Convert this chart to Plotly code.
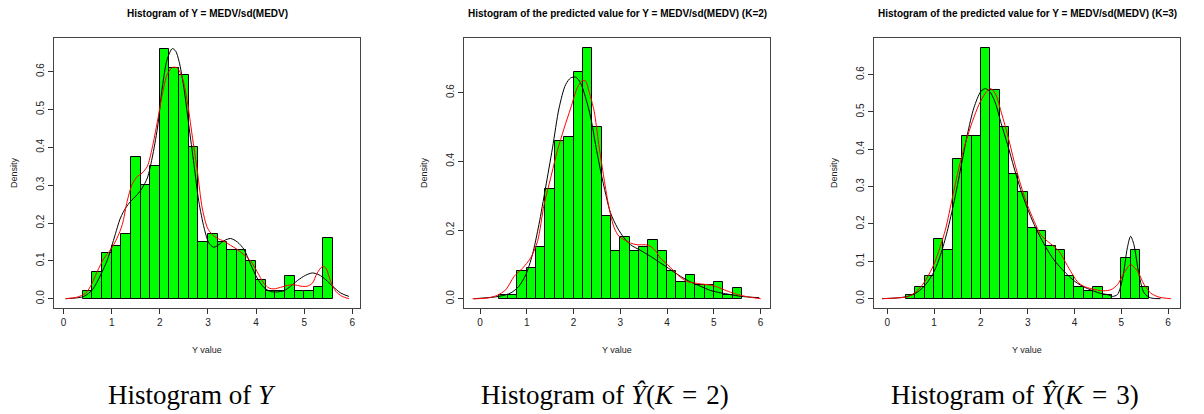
import plotly.graph_objects as go

# ---------------- data ----------------
bin_left = [0.4, 0.6, 0.8, 1.0, 1.2, 1.4, 1.6, 1.8, 2.0, 2.2, 2.4, 2.6, 2.8,
            3.0, 3.2, 3.4, 3.6, 3.8, 4.0, 4.2, 4.4, 4.6, 4.8, 5.0, 5.2, 5.4]
bin_width = 0.2

dens_y = [0.02, 0.07, 0.12, 0.14, 0.17, 0.375, 0.30, 0.35, 0.66, 0.61, 0.59, 0.40, 0.15,
          0.17, 0.15, 0.13, 0.13, 0.10, 0.05, 0.02, 0.02, 0.06, 0.02, 0.02, 0.03, 0.16]
dens_k2 = [0.01, 0.01, 0.08, 0.09, 0.15, 0.32, 0.46, 0.47, 0.66, 0.73, 0.50, 0.24, 0.14,
           0.18, 0.14, 0.15, 0.17, 0.14, 0.08, 0.05, 0.07, 0.04, 0.04, 0.05, 0.01, 0.03]
dens_k3 = [0.01, 0.03, 0.06, 0.16, 0.13, 0.375, 0.435, 0.435, 0.67, 0.56, 0.46, 0.335, 0.285,
           0.19, 0.18, 0.14, 0.13, 0.06, 0.03, 0.02, 0.03, 0.01, 0.0, 0.11, 0.13, 0.03]

# fitted mixture density (black) and kernel density (red)
fit1_x = [0.04, 0.42, 0.60, 0.77, 0.91, 1.05, 1.18, 1.29, 1.39, 1.53, 1.63, 1.74, 1.84, 1.95,
          2.05, 2.15, 2.26, 2.33, 2.40, 2.50, 2.60, 2.71, 2.81, 2.92, 3.02, 3.12, 3.23, 3.33,
          3.47, 3.61, 3.75, 3.89, 4.02, 4.16, 4.30, 4.44, 4.58, 4.72, 4.86, 5.03, 5.17, 5.31,
          5.45, 5.59, 5.76, 5.93]
fit1_y = [0.0, 0.006, 0.024, 0.063, 0.103, 0.16, 0.213, 0.24, 0.257, 0.275, 0.292, 0.319, 0.372, 0.451,
          0.557, 0.632, 0.661, 0.654, 0.627, 0.557, 0.46, 0.354, 0.257, 0.187, 0.147, 0.136, 0.143, 0.153,
          0.159, 0.150, 0.13, 0.09, 0.055, 0.03, 0.019, 0.018, 0.021, 0.033, 0.048, 0.062, 0.068, 0.063,
          0.05, 0.033, 0.015, 0.006]
kde1_x = [0.04, 0.28, 0.46, 0.56, 0.70, 0.84, 0.98, 1.11, 1.22, 1.32, 1.42, 1.53, 1.63, 1.74,
          1.84, 1.95, 2.05, 2.15, 2.26, 2.36, 2.47, 2.57, 2.67, 2.78, 2.88, 2.99, 3.09, 3.19,
          3.33, 3.47, 3.61, 3.75, 3.89, 4.02, 4.16, 4.27, 4.37, 4.51, 4.65, 4.79, 4.93, 5.06,
          5.17, 5.27, 5.38, 5.45, 5.55, 5.66, 5.79, 5.93]
kde1_y = [0.0, 0.004, 0.015, 0.033, 0.072, 0.107, 0.13, 0.16, 0.196, 0.257, 0.301, 0.323, 0.332, 0.35,
          0.398, 0.469, 0.539, 0.592, 0.611, 0.61, 0.583, 0.522, 0.433, 0.337, 0.24, 0.187, 0.169, 0.160,
          0.152, 0.141, 0.13, 0.116, 0.099, 0.072, 0.041, 0.028, 0.026, 0.03, 0.035, 0.037, 0.033, 0.033,
          0.041, 0.068, 0.085, 0.081, 0.046, 0.019, 0.006, 0.0]

fit2_x = [-0.13, 0.41, 0.66, 0.83, 0.98, 1.12, 1.26, 1.40, 1.55, 1.69, 1.83, 1.94, 2.05, 2.15,
          2.26, 2.37, 2.47, 2.58, 2.69, 2.79, 2.94, 3.08, 3.22, 3.44, 3.65, 3.86, 4.08, 4.29,
          4.50, 4.72, 4.93, 5.15, 5.36, 5.57, 5.97]
fit2_y = [0.0, 0.007, 0.017, 0.036, 0.07, 0.128, 0.216, 0.322, 0.439, 0.555, 0.623, 0.643, 0.645, 0.628,
          0.584, 0.526, 0.449, 0.371, 0.303, 0.25, 0.206, 0.177, 0.157, 0.14, 0.123, 0.104, 0.084, 0.065,
          0.049, 0.036, 0.024, 0.017, 0.012, 0.007, 0.003]
kde2_x = [-0.16, 0.16, 0.37, 0.55, 0.73, 0.91, 1.08, 1.23, 1.37, 1.51, 1.65, 1.80, 1.94, 2.08,
          2.19, 2.26, 2.33, 2.44, 2.54, 2.65, 2.76, 2.87, 2.97, 3.08, 3.22, 3.36, 3.54, 3.65,
          3.76, 3.86, 4.01, 4.15, 4.29, 4.43, 4.58, 4.72, 4.86, 5.04, 5.22, 5.40, 5.57, 5.79, 6.0]
kde2_y = [0.0, 0.002, 0.01, 0.026, 0.065, 0.089, 0.118, 0.167, 0.274, 0.351, 0.429, 0.497, 0.555, 0.614,
          0.635, 0.633, 0.604, 0.546, 0.449, 0.351, 0.264, 0.206, 0.182, 0.172, 0.162, 0.157, 0.157, 0.152,
          0.138, 0.118, 0.099, 0.08, 0.062, 0.05, 0.046, 0.043, 0.041, 0.036, 0.026, 0.017, 0.01, 0.004, 0.0]

fit3_x = [-0.11, 0.21, 0.43, 0.64, 0.82, 1.00, 1.14, 1.28, 1.43, 1.57, 1.71, 1.85, 2.00, 2.10,
          2.21, 2.32, 2.42, 2.57, 2.71, 2.85, 2.99, 3.14, 3.28, 3.42, 3.56, 3.71, 3.85, 3.99,
          4.13, 4.28, 4.42, 4.56, 4.70, 4.81, 4.92, 5.03, 5.13, 5.20, 5.27, 5.38, 5.49, 5.63, 5.84]
fit3_y = [0.0, 0.002, 0.006, 0.017, 0.038, 0.073, 0.118, 0.18, 0.261, 0.35, 0.439, 0.511, 0.555, 0.5625,
          0.551, 0.52, 0.475, 0.4125, 0.35, 0.292, 0.243, 0.198, 0.1625, 0.131, 0.104, 0.082, 0.064, 0.048,
          0.036, 0.027, 0.02, 0.014, 0.011, 0.006, 0.011, 0.055, 0.136, 0.167, 0.145, 0.064, 0.015, 0.002, 0.0]
kde3_x = [-0.11, 0.21, 0.43, 0.61, 0.78, 0.96, 1.10, 1.25, 1.39, 1.53, 1.68, 1.82, 1.96, 2.10,
          2.21, 2.32, 2.42, 2.57, 2.71, 2.85, 2.99, 3.14, 3.28, 3.42, 3.56, 3.67, 3.78, 3.92,
          4.06, 4.20, 4.35, 4.49, 4.63, 4.78, 4.92, 5.06, 5.20, 5.35, 5.49, 5.63, 5.81, 6.06]
kde3_y = [0.0, 0.002, 0.005, 0.018, 0.042, 0.082, 0.127, 0.189, 0.27, 0.35, 0.421, 0.475, 0.52, 0.551,
          0.5625, 0.546, 0.506, 0.439, 0.368, 0.305, 0.252, 0.207, 0.171, 0.154, 0.14, 0.127, 0.104, 0.073,
          0.046, 0.033, 0.027, 0.023, 0.021, 0.024, 0.0375, 0.069, 0.091, 0.073, 0.0375, 0.015, 0.004, 0.0]

titles = ["Histogram of Y = MEDV/sd(MEDV)",
          "Histogram of the predicted value for Y = MEDV/sd(MEDV) (K=2)",
          "Histogram of the predicted value for Y = MEDV/sd(MEDV) (K=3)"]
captions = ["Histogram of <i>Y</i>",
            "Histogram of <i>Ŷ</i>(<i>K</i>\u2004=\u20042)",
            "Histogram of <i>Ŷ</i>(<i>K</i>\u2004=\u20043)"]
x_ticks = [0, 1, 2, 3, 4, 5, 6]
y_ticks = [[0, 0.1, 0.2, 0.3, 0.4, 0.5, 0.6],
           [0, 0.2, 0.4, 0.6],
           [0, 0.1, 0.2, 0.3, 0.4, 0.5, 0.6]]

# ---------------- layout helpers ----------------
# the page body adds an 8px margin, so the figure is 8px smaller and all
# reference pixel positions are shifted by that offset
OFF = 8
W, H = 1204 - OFF, 414 - OFF
boxes = [(54, 360), (464, 770), (874, 1180)]
box_top, box_bot = 38, 308
x_ranges = [[-0.2, 6.16], [-0.342, 6.2], [-0.285, 6.256]]
y_ranges = [[-0.0246, 0.689], [-0.027, 0.759], [-0.025, 0.698]]


def px(x):
    return (x - OFF) / W


def py(y):
    return 1 - (y - OFF) / H


densities = [dens_y, dens_k2, dens_k3]
fits = [(fit1_x, fit1_y), (fit2_x, fit2_y), (fit3_x, fit3_y)]
kdes = [(kde1_x, kde1_y), (kde2_x, kde2_y), (kde3_x, kde3_y)]

centers = [b + bin_width / 2 for b in bin_left]

fig = go.Figure()
annotations = []
font_sans = "Liberation Sans, Arial, sans-serif"

for i in range(3):
    sfx = "" if i == 0 else str(i + 1)
    xa, ya = "x" + sfx, "y" + sfx
    fig.add_trace(go.Bar(x=centers, y=densities[i], width=bin_width,
                         marker=dict(color="#00ff00", line=dict(color="black", width=1)),
                         xaxis=xa, yaxis=ya, showlegend=False, hoverinfo="skip"))
    fig.add_trace(go.Scatter(x=fits[i][0], y=fits[i][1], mode="lines",
                             line=dict(color="black", width=1, shape="spline", smoothing=0.8),
                             xaxis=xa, yaxis=ya, showlegend=False, hoverinfo="skip"))
    fig.add_trace(go.Scatter(x=kdes[i][0], y=kdes[i][1], mode="lines",
                             line=dict(color="red", width=1, shape="spline", smoothing=0.8),
                             xaxis=xa, yaxis=ya, showlegend=False, hoverinfo="skip"))

    x0, x1 = boxes[i]
    fig.layout["xaxis" + sfx] = dict(
        domain=[px(x0), px(x1)], range=x_ranges[i], anchor=ya,
        tickmode="array", tickvals=x_ticks, ticktext=[str(t) for t in x_ticks],
        ticks="outside", ticklen=5, tickwidth=1, tickcolor="#333",
        showline=True, mirror=True, linecolor="#444", linewidth=1,
        showgrid=False, zeroline=False,
        tickfont=dict(family=font_sans, size=10, color="#222"))
    fig.layout["yaxis" + sfx] = dict(
        domain=[py(box_bot), py(box_top)], range=y_ranges[i], anchor=xa,
        tickmode="array", tickvals=y_ticks[i], ticktext=[f"{t:.1f}" for t in y_ticks[i]],
        ticks="outside", ticklen=5, tickwidth=1, tickcolor="#333", tickangle=-90,
        showline=True, mirror=True, linecolor="#444", linewidth=1,
        showgrid=False, zeroline=False,
        tickfont=dict(family=font_sans, size=10, color="#222"))

    cx = (x0 + x1) / 2
    annotations.append(dict(text="<b>" + titles[i] + "</b>", x=px(cx), y=py(14),
                            xref="paper", yref="paper", showarrow=False,
                            xanchor="center", yanchor="middle",
                            font=dict(family=font_sans, size=10, color="black")))
    annotations.append(dict(text="Y value", x=px(cx), y=py(350),
                            xref="paper", yref="paper", showarrow=False,
                            xanchor="center", yanchor="middle",
                            font=dict(family=font_sans, size=9, color="#222")))
    annotations.append(dict(text="Density", x=px(x0 - 40), y=py((box_top + box_bot) / 2),
                            xref="paper", yref="paper", showarrow=False, textangle=-90,
                            xanchor="center", yanchor="middle",
                            font=dict(family=font_sans, size=9, color="#222")))

caption_x = [192, 605, 1015]
for i in range(3):
    annotations.append(dict(text=captions[i], x=px(caption_x[i]), y=py(395),
                            xref="paper", yref="paper", showarrow=False,
                            xanchor="center", yanchor="middle",
                            font=dict(family="Liberation Serif, DejaVu Serif, serif", size=27, color="black")))

fig.update_layout(width=W, height=H, margin=dict(l=0, r=0, t=0, b=0),
                  paper_bgcolor="white", plot_bgcolor="white",
                  bargap=0, annotations=annotations, showlegend=False)

fig.write_html("out.html")
